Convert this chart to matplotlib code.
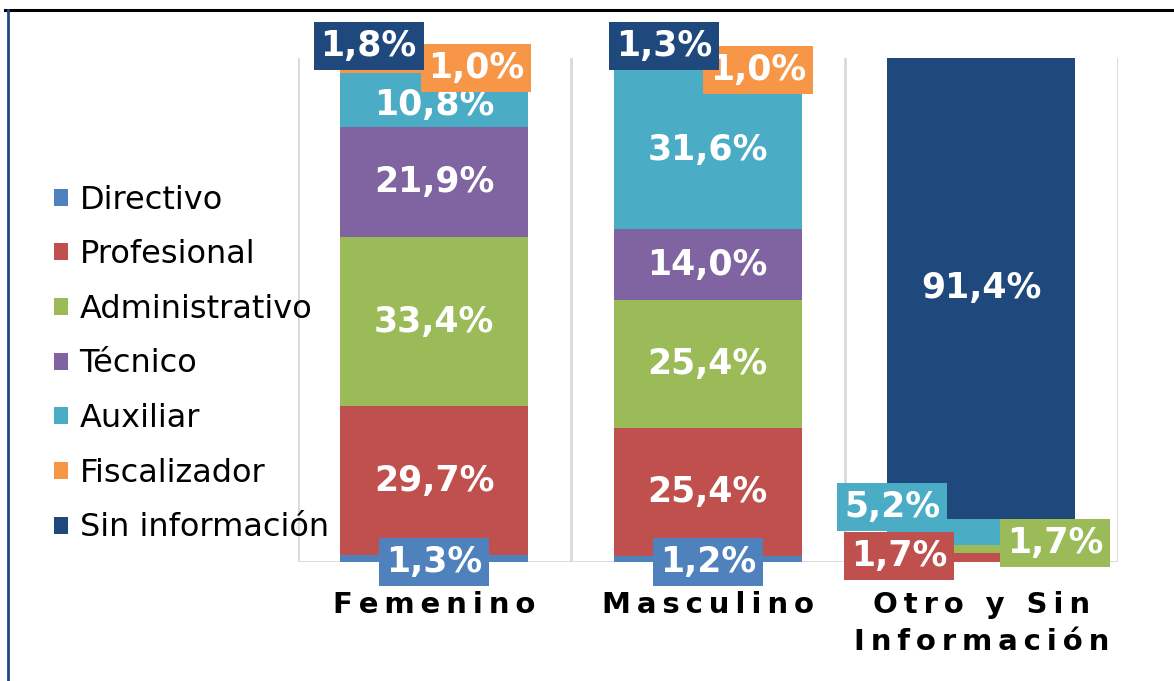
import numpy as np
import matplotlib
matplotlib.use("Agg")
import matplotlib.pyplot as plt
from matplotlib.lines import Line2D
from matplotlib.patches import Patch

# data
categories = ["Femenino", "Masculino", "Otro y Sin\nInformación"]
series = ["Directivo", "Profesional", "Administrativo", "Técnico",
          "Auxiliar", "Fiscalizador", "Sin información"]
directivo = [1.3, 1.2, 0.0]
profesional = [29.7, 25.4, 1.7]
administrativo = [33.4, 25.4, 1.7]
tecnico = [21.9, 14.0, 0.0]
auxiliar = [10.8, 31.6, 5.2]
fiscalizador = [1.0, 1.0, 0.0]
sin_info = [1.8, 1.3, 91.4]
values = [directivo, profesional, administrativo, tecnico, auxiliar, fiscalizador, sin_info]
colors = ["#4F81BD", "#C0504D", "#9BBB59", "#8064A2", "#4BACC6", "#F79646", "#1F497D"]

# small segments get a boxed label moved off the bar: (series, category) -> (dx, offset from segment center)
boxed = {
    (0, 0): (0.0, -0.65), (0, 1): (0.0, -0.6),
    (5, 0): (0.154, 0.4), (6, 0): (-0.24, 3.4),
    (5, 1): (0.185, -0.5), (6, 1): (-0.16, 3.15),
    (1, 2): (-0.30, 0.35), (2, 2): (0.27, 1.25), (4, 2): (-0.325, 4.9),
}
# inner labels nudged down a little
nudge = {(4, 0): -1.1}

W, H = 1174, 681
fig = plt.figure(figsize=(W / 100, H / 100), dpi=100)
ax = fig.add_axes([297.5 / W, 1 - 562 / H, (1118 - 297.5) / W, (562 - 58) / H])

x = np.arange(len(categories))
bottom = np.zeros(len(categories))
for i, vals in enumerate(values):
    vals = np.array(vals)
    ax.bar(x, vals, 0.687, bottom=bottom, color=colors[i], zorder=2, label=series[i])
    for j, v in enumerate(vals):
        if v <= 0:
            continue
        txt = f"{v:.1f}%".replace(".", ",")
        cy = bottom[j] + v / 2
        if (i, j) in boxed:
            dx, dy = boxed[(i, j)]
            ax.text(x[j] + dx, cy + dy, txt, ha="center", va="center", color="white",
                    fontsize=25, fontweight="bold", zorder=5 + i,
                    bbox=dict(boxstyle="square,pad=0.2", fc=colors[i], ec="none"))
        else:
            ax.text(x[j], cy + nudge.get((i, j), 0), txt, ha="center", va="center",
                    color="white", fontsize=25, fontweight="bold", zorder=4)
    bottom += vals

ax.set_xlim(-0.5, 2.5)
ax.set_ylim(0, 100)
for b in [-0.5, 0.5, 1.5, 2.5]:
    ax.axvline(b, color="#D9D9D9", lw=2, zorder=1)
ax.axhline(0, color="#D9D9D9", lw=2, zorder=1)
for s in ax.spines.values():
    s.set_visible(False)
ax.set_yticks([])
ax.set_xticks(x)
spaced = ["\n".join("\u2009".join(w) for w in c.split("\n")) for c in categories]
ax.set_xticklabels(spaced, fontsize=21, fontweight="bold", linespacing=1.42, va="top")
ax.tick_params(axis="x", length=0, pad=21)
ax.patch.set_visible(False)

handles = [Patch(facecolor=c, edgecolor="none") for c in colors]
fig.legend(handles, series, loc="center left", bbox_to_anchor=(54 / W, 1 - 364 / H),
           frameon=False, fontsize=23, handlelength=0.44, handleheight=0.44,
           handletextpad=0.36, labelspacing=0.74, borderpad=0, borderaxespad=0)

# frame lines
fig.add_artist(Line2D([5 / W, 1], [1 - 10 / H, 1 - 10 / H], color="black", lw=2.2))
fig.add_artist(Line2D([8 / W, 8 / W], [0, 1 - 10 / H], color="#1F497D", lw=2))

fig.savefig("out.png", dpi=100)
